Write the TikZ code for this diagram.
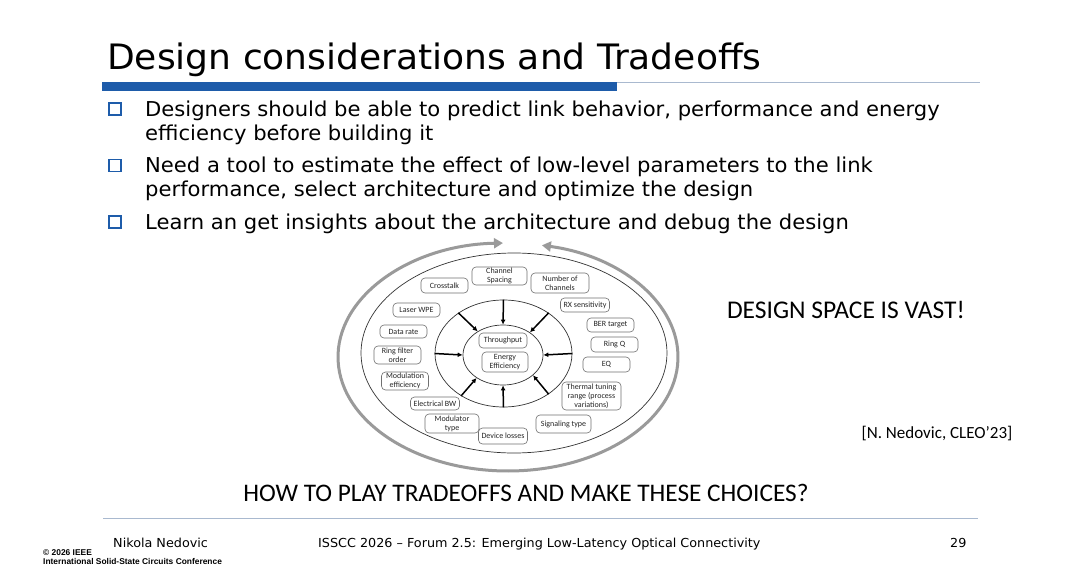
\documentclass[tikz,border=0pt]{standalone}
\usepackage{fontspec}
\setmainfont[FakeStretch=1.03]{DejaVu Sans}
\newfontfamily\calfont{Carlito}
\newfontfamily\arialfont{Liberation Sans}
\usetikzlibrary{arrows.meta,shapes.geometric}
\definecolor{barblue}{HTML}{1E5CAA}
\definecolor{thinline}{HTML}{A9B9CF}
\definecolor{arcgrey}{HTML}{9A9A9A}
\definecolor{boxedge}{HTML}{707070}
\begin{document}
\begin{tikzpicture}[x=1pt,y=-1pt,
  box/.style={draw=boxedge, line width=0.6pt, rounded corners=4pt, inner sep=0pt, align=center,
    font=\calfont\fontsize{8}{9}\selectfont, text=black!85},
  ring/.style={draw=black!80, line width=0.7pt, ellipse, inner sep=0pt},
  push/.style={line width=1.5pt, -{Latex[length=5pt,width=5pt]}},
  bulletbox/.style={draw=barblue, line width=1.9pt, minimum width=12pt, minimum height=12pt, inner sep=0pt},
  btext/.style={anchor=base west, font=\fontsize{20.5}{24}\selectfont, inner sep=0pt},
  foot/.style={anchor=base west, font=\fontsize{12.4}{15}\selectfont, inner sep=0pt},
  ieee/.style={anchor=base west, font=\arialfont\bfseries\fontsize{8.4}{10}\selectfont, inner sep=0pt},
]
\useasboundingbox[fill=white] (0,0) rectangle (1080,568);

% title
\node[anchor=base west, inner sep=0pt, font=\fontsize{35}{42}\selectfont] (title) at (107,69) {Design considerations and Tradeoffs};
\fill[barblue] (102,82) rectangle (617,91);
\draw[thinline, line width=1pt] (617,82) -- (980,82);

% bullets
\node[bulletbox] (b1) at (115,109) {};
\node[bulletbox] (b2) at (115,165.5) {};
\node[bulletbox] (b3) at (115,222) {};
\node[btext] (t1a) at (145,116) {Designers should be able to predict link behavior, performance and energy};
\node[btext] (t1b) at (145,140) {efficiency before building it};
\node[btext] (t2a) at (145,172.5) {Need a tool to estimate the effect of low-level parameters to the link};
\node[btext] (t2b) at (145,196.5) {performance, select architecture and optimize the design};
\node[btext] (t3a) at (145,229) {Learn an get insights about the architecture and debug the design};

% diagram
\draw[arcgrey, line width=3pt, {Triangle[length=9pt,width=10pt]}-{Triangle[length=9pt,width=10pt]}]
  (508,357) ++(91.7:170pt and 114pt) arc[start angle=91.7, end angle=438.5, x radius=170pt, y radius=114pt];
\draw[black!80, line width=0.7pt] (514,353) ellipse [x radius=153pt, y radius=100pt];
\node[ring, minimum width=137pt, minimum height=107pt] (mid) at (503.5,353.5) {};
\node[ring, minimum width=80pt, minimum height=60pt] (core) at (503,355) {};

\draw[push] (mid.90) -- (core.90);
\draw[push] (mid.138) -- (core.137);
\draw[push] (mid.42) -- (core.40);
\draw[push] (mid.180) -- (core.180);
\draw[push] (mid.0) -- (core.0);
\draw[push] (mid.225) -- (core.221);
\draw[push] (mid.270) -- (core.270);
\draw[push] (mid.318) -- (core.326);

\node[box, minimum width=47pt, minimum height=15pt] (crosstalk) at (444.5,285.5) {Crosstalk};
\node[box, minimum width=55pt, minimum height=18pt] (spacing) at (499.5,276) {Channel\\Spacing};
\node[box, minimum width=58pt, minimum height=20pt] (nchan) at (560,283) {Number of\\Channels};
\node[box, minimum width=47pt, minimum height=14pt] (laser) at (416.5,310) {Laser WPE};
\node[box, minimum width=49pt, minimum height=14pt] (rxs) at (585,305) {RX sensitivity};
\node[box, minimum width=47pt, minimum height=13pt] (rate) at (403.5,331.5) {Data rate};
\node[box, minimum width=47pt, minimum height=14pt] (ber) at (610.5,325) {BER target};
\node[box, minimum width=47pt, minimum height=18pt] (rfo) at (397.5,355) {Ring filter\\order};
\node[box, minimum width=47pt, minimum height=15pt] (ringq) at (614.5,344.5) {Ring Q};
\node[box, minimum width=47pt, minimum height=15pt] (eq) at (606.5,364.5) {EQ};
\node[box, minimum width=47pt, minimum height=18pt] (modeff) at (405,381) {Modulation\\efficiency};
\node[box, minimum width=59pt, minimum height=28pt] (thermal) at (591.5,396) {Thermal tuning\\range (process\\variations)};
\node[box, minimum width=49pt, minimum height=13pt] (ebw) at (435,403.5) {Electrical BW};
\node[box, minimum width=54pt, minimum height=19pt] (modtype) at (452,423.5) {Modulator\\type};
\node[box, minimum width=55pt, minimum height=18pt] (sig) at (563.5,424) {Signaling type};
\node[box, minimum width=49pt, minimum height=16pt] (loss) at (503,436) {Device losses};
\node[box, minimum width=48pt, minimum height=15pt] (thr) at (503,340.5) {Throughput};
\node[box, minimum width=46pt, minimum height=20pt] (ee) at (505,362) {Energy\\Efficiency};

% side texts
\node[font=\calfont\fontsize{25.5}{30}\selectfont, inner sep=0pt] (vast) at (846,310) {DESIGN SPACE IS VAST!};
\node[font=\calfont\fontsize{17}{20}\selectfont, inner sep=0pt] (cite) at (937,434) {[N. Nedovic, CLEO’23]};
\node[font=\calfont\fontsize{25.3}{30}\selectfont, inner sep=0pt] (how) at (526,493) {HOW TO PLAY TRADEOFFS AND MAKE THESE CHOICES?};

% footer
\draw[thinline, line width=0.8pt] (103,518) -- (978,518);
\node[foot] (author) at (113,547) {Nikola Nedovic};
\node[foot] (event) at (318,547) {ISSCC 2026 – Forum 2.5: Emerging Low-Latency Optical Connectivity};
\node[foot] (page) at (950,547) {29};
\node[ieee] (copy) at (43,555) {© 2026 IEEE};
\node[ieee] (conf) at (43,564) {International Solid-State Circuits Conference};
\end{tikzpicture}
\end{document}
